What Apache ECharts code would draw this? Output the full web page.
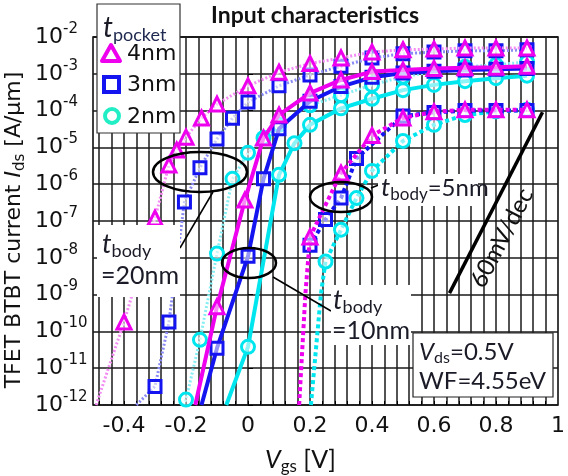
<!DOCTYPE html>
<html><head><meta charset="utf-8">
<script src="https://cdn.jsdelivr.net/npm/echarts@6/dist/echarts.min.js"></script>
<style>html,body{margin:0;padding:0;background:#fff}#c{width:568px;height:476px}</style>
</head><body><div id="c"></div>
<script>
// ---------- tick values ----------
const xTickLabels = [-0.4, -0.2, 0, 0.2, 0.4, 0.6, 0.8, 1];
const xGridLines = [-0.48,-0.44,-0.40,-0.36,-0.32,-0.28,-0.24,-0.20,-0.16,-0.12,-0.08,-0.04,0,0.04,0.08,0.12,0.16,0.20,0.24,0.28,0.32,0.36,0.40,0.44,0.48,0.52,0.56,0.60,0.64,0.68,0.72,0.76,0.80,0.84,0.88,0.92,0.96];

// ---------- t_body = 20 nm ----------
const vgs_20_4 = [-0.4, -0.3, -0.255, -0.23, -0.2, -0.15, -0.1, 0, 0.1, 0.2, 0.3, 0.4, 0.5, 0.6, 0.7, 0.8, 0.9];
const ids_20_4 = [1.8e-10, 1.2e-7, 3.3e-6, 8.5e-6, 1.9e-5, 6.3e-5, 1.5e-4, 4.7e-4, 1.1e-3, 1.9e-3, 2.7e-3, 3.9e-3, 4.5e-3, 4.7e-3, 5.0e-3, 5.0e-3, 5.0e-3];
const ext_20_4 = [[-0.49, 1e-12]];

const vgs_20_3 = [-0.3, -0.255, -0.205, -0.155, -0.1, -0.05, 0, 0.1, 0.2, 0.3, 0.4, 0.5, 0.6, 0.7, 0.8, 0.9];
const ids_20_3 = [3.2e-12, 1.8e-10, 3.3e-7, 2.8e-6, 1.7e-5, 6.2e-5, 1.7e-4, 4.7e-4, 9.3e-4, 1.6e-3, 2.7e-3, 3.5e-3, 3.9e-3, 4.2e-3, 4.2e-3, 4.5e-3];
const ext_20_3 = [[-0.36, 1e-12]];

const vgs_20_2 = [-0.2, -0.155, -0.1, -0.05, 0, 0.05, 0.1, 0.2, 0.3, 0.4, 0.5, 0.6, 0.7, 0.8, 0.9];
const ids_20_2 = [1.4e-12, 5.9e-11, 1.3e-8, 1.4e-6, 7.1e-6, 1.8e-5, 4.1e-5, 1.4e-4, 2.6e-4, 5.0e-4, 8.3e-4, 1.15e-3, 1.55e-3, 1.75e-3, 2.1e-3];
const ext_20_2 = [[-0.21, 1e-12]];

// ---------- t_body = 10 nm ----------
const vgs_10_4 = [-0.1, -0.01, 0.05, 0.1, 0.2, 0.3, 0.4, 0.5, 0.6, 0.7, 0.8, 0.9];
const ids_10_4 = [4.7e-10, 3.7e-7, 1.8e-5, 7.6e-5, 3.0e-4, 6.8e-4, 1.15e-3, 1.26e-3, 1.4e-3, 1.45e-3, 1.5e-3, 1.6e-3];
const ext_10_4 = [[-0.17, 1e-12]];

const vgs_10_3 = [-0.1, 0, 0.05, 0.1, 0.2, 0.3, 0.4, 0.5, 0.6, 0.7, 0.8, 0.9];
const ids_10_3 = [3.5e-11, 1.1e-8, 1.4e-6, 3.2e-5, 1.8e-4, 4.5e-4, 8.0e-4, 1.05e-3, 1.17e-3, 1.26e-3, 1.32e-3, 1.4e-3];
const ext_10_3 = [[-0.15, 1e-12]];

const vgs_10_2 = [0, 0.1, 0.15, 0.2, 0.3, 0.4, 0.5, 0.6, 0.7, 0.8, 0.9];
const ids_10_2 = [3.8e-11, 1.8e-6, 1.3e-5, 4.1e-5, 1.15e-4, 2.1e-4, 3.6e-4, 5.0e-4, 6.3e-4, 7.6e-4, 8.9e-4];
const ext_10_2 = [[-0.07, 1e-12]];

// ---------- t_body = 5 nm ----------
const vgs_5_4 = [0.2, 0.3, 0.4, 0.5, 0.6, 0.7, 0.8, 0.9];
const ids_5_4 = [3.7e-8, 2.0e-6, 2.1e-5, 6.3e-5, 9.3e-5, 1.05e-4, 1.05e-4, 1.05e-4];
const ext_5_4 = [[0.165, 1e-12], [0.185, 1e-9]];

const vgs_5_3 = [0.2, 0.25, 0.3, 0.35, 0.5, 0.6, 0.7, 0.8, 0.9];
const ids_5_3 = [2.2e-8, 1.1e-7, 4.2e-7, 5.0e-6, 7.1e-5, 8.9e-5, 1.0e-4, 1.0e-4, 1.0e-4];
const ext_5_3 = [];

const vgs_5_2 = [0.25, 0.3, 0.35, 0.4, 0.5, 0.6, 0.7, 0.8, 0.9];
const ids_5_2 = [7.9e-9, 5.8e-8, 4.2e-7, 2.3e-6, 1.5e-5, 4.1e-5, 7.6e-5, 9.5e-5, 1.05e-4];
const ext_5_2 = [[0.203, 1e-12], [0.235, 1e-9]];

// reference slope line (60 mV/dec)
const slopeVgs = [0.65, 0.95];
const slopeIds = [1.1e-9, 9.0e-5];

// ---------- styles ----------
const MAG = '#ee00ee', BLU = '#1414f0', CYA = '#00e6ee';
const MAG_L = '#f38cf3', BLU_L = '#8a8af5', CYA_L = '#86eef3';

function buildData(xs, ys, ext) {
  const pts = xs.map((x, i) => ({ value: [x, ys[i]] }));
  ext.forEach(p => pts.push({ value: [p[0], p[1]], symbol: 'none' }));
  pts.sort((a, b) => a.value[0] - b.value[0]);
  return pts;
}
function series(xs, ys, ext, color, lineColor, lineType, width, symbol, size, z) {
  return {
    type: 'line', data: buildData(xs, ys, ext), z: z,
    symbol: symbol, symbolSize: size, showAllSymbol: true,
    lineStyle: { color: lineColor, width: width, type: lineType },
    itemStyle: { color: 'rgba(255,255,255,0.55)', borderColor: color, borderWidth: 3 },
    emphasis: { disabled: true }, animation: false
  };
}

const sList = [
  series(vgs_20_2, ids_20_2, ext_20_2, CYA, CYA_L, [2, 2], 3, 'circle', 13, 2),
  series(vgs_20_3, ids_20_3, ext_20_3, BLU, BLU_L, [2, 2], 3, 'rect', 12, 3),
  series(vgs_20_4, ids_20_4, ext_20_4, MAG, MAG_L, [2, 2], 3, 'triangle', 14, 4),
  series(vgs_10_2, ids_10_2, ext_10_2, CYA, CYA, 'solid', 4, 'circle', 13, 5),
  series(vgs_10_3, ids_10_3, ext_10_3, BLU, BLU, 'solid', 4, 'rect', 12, 6),
  series(vgs_10_4, ids_10_4, ext_10_4, MAG, MAG, 'solid', 4, 'triangle', 14, 7),
  series(vgs_5_2, ids_5_2, ext_5_2, CYA, CYA, [4, 3], 4, 'circle', 13, 8),
  series(vgs_5_3, ids_5_3, ext_5_3, BLU, BLU, [4, 3], 4, 'rect', 12, 9),
  series(vgs_5_4, ids_5_4, ext_5_4, MAG, MAG, [4, 3], 4, 'triangle', 14, 10),
  { type: 'line', data: slopeVgs.map((x, i) => [x, slopeIds[i]]), symbol: 'none', z: 11,
    lineStyle: { color: '#000', width: 3.5 }, animation: false }
];

const TXT = '#1b1b28';
const ann = 'Lato, "Open Sans", sans-serif';
const graphic = [
  // title
  { type: 'text', x: 315, y: 16, z: 50, style: { text: 'Input characteristics', font: 'bold 23px ' + ann, fill: '#111', textAlign: 'center', textVerticalAlign: 'middle' } },
  // y axis title
  { type: 'text', x: 14, y: 230, rotation: Math.PI / 2, z: 50, style: {
      text: '{n|TFET BTBT current }{i|I}{s|ds}{n| [A/μm]}', textAlign: 'center', textVerticalAlign: 'middle',
      rich: { n: { fontSize: 22, fontFamily: 'DejaVu Sans', fill: '#111' }, i: { fontSize: 22, fontFamily: 'DejaVu Sans', fontStyle: 'italic', fill: '#111' }, s: { fontSize: 15, fontFamily: 'DejaVu Sans', fill: '#111', padding: [12, 0, 0, 0] } } } },
  // x axis title
  { type: 'text', x: 265, y: 460, z: 50, style: {
      text: '{i|V}{s|gs}{n| [V]}', textVerticalAlign: 'middle',
      rich: { n: { fontSize: 25, fontFamily: ann, fill: '#111' }, i: { fontSize: 25, fontFamily: ann, fontStyle: 'italic', fill: '#111' }, s: { fontSize: 17, fontFamily: ann, fill: '#111', padding: [14, 0, 0, 0] } } } },
  // legend box
  { type: 'rect', z: 40, shape: { x: 97, y: 4, width: 83, height: 129 }, style: { fill: '#fff', stroke: '#333', lineWidth: 1.2 } },
  { type: 'text', x: 103, y: 28, z: 41, style: { text: '{i|t}{s|pocket}', textVerticalAlign: 'middle',
      rich: { i: { fontSize: 28, fontFamily: ann, fontStyle: 'italic', fill: TXT }, s: { fontSize: 18, fontFamily: ann, fill: '#202a50', padding: [14, 0, 0, 0] } } } },
  { type: 'polygon', z: 41, shape: { points: [[111, 45], [120, 61], [102, 61]] }, style: { fill: '#fff', stroke: MAG, lineWidth: 4, lineJoin: 'round' } },
  { type: 'rect', z: 41, shape: { x: 104, y: 77, width: 15, height: 15 }, style: { fill: '#fff', stroke: BLU, lineWidth: 4 } },
  { type: 'circle', z: 41, shape: { cx: 112, cy: 116, r: 7 }, style: { fill: '#fff', stroke: '#22eec6', lineWidth: 4 } },
  { type: 'text', x: 127, y: 54, z: 41, style: { text: '4nm', font: '22px "DejaVu Sans"', fill: '#111', textVerticalAlign: 'middle' } },
  { type: 'text', x: 127, y: 85, z: 41, style: { text: '3nm', font: '22px "DejaVu Sans"', fill: '#111', textVerticalAlign: 'middle' } },
  { type: 'text', x: 127, y: 117, z: 41, style: { text: '2nm', font: '22px "DejaVu Sans"', fill: '#111', textVerticalAlign: 'middle' } },
  // ellipses
  { type: 'ellipse', z: 30, shape: { cx: 200, cy: 172, rx: 47, ry: 20 }, style: { fill: 'none', stroke: '#000', lineWidth: 2.5 } },
  { type: 'ellipse', z: 30, shape: { cx: 249, cy: 263, rx: 27, ry: 15 }, style: { fill: 'none', stroke: '#000', lineWidth: 2.5 } },
  { type: 'ellipse', z: 30, shape: { cx: 341, cy: 197, rx: 31, ry: 15 }, style: { fill: 'none', stroke: '#000', lineWidth: 2.5 } },
  { type: 'line', z: 30, shape: { x1: 213, y1: 192, x2: 180, y2: 248 }, style: { stroke: '#000', lineWidth: 1.5 } },
  { type: 'line', z: 30, shape: { x1: 273, y1: 277, x2: 331, y2: 311 }, style: { stroke: '#000', lineWidth: 1.5 } },
  { type: 'line', z: 30, shape: { x1: 371, y1: 188, x2: 381, y2: 184 }, style: { stroke: '#000', lineWidth: 1.5 } },
  // t_body = 20nm
  { type: 'rect', z: 31, shape: { x: 97, y: 225, width: 83, height: 72 }, style: { fill: '#fff' } },
  { type: 'text', x: 102, y: 244, z: 32, style: { text: '{i|t}{s|body}', textVerticalAlign: 'middle',
      rich: { i: { fontSize: 27, fontFamily: ann, fontStyle: 'italic', fill: TXT }, s: { fontSize: 18, fontFamily: ann, fill: TXT, padding: [14, 0, 0, 0] } } } },
  { type: 'text', x: 101, y: 276, z: 32, style: { text: '=20nm', font: '25px ' + ann, fill: TXT, textVerticalAlign: 'middle' } },
  // t_body = 10nm
  { type: 'rect', z: 31, shape: { x: 331, y: 285, width: 80, height: 60 }, style: { fill: '#fff' } },
  { type: 'text', x: 333, y: 300, z: 32, style: { text: '{i|t}{s|body}', textVerticalAlign: 'middle',
      rich: { i: { fontSize: 27, fontFamily: ann, fontStyle: 'italic', fill: TXT }, s: { fontSize: 18, fontFamily: ann, fill: TXT, padding: [14, 0, 0, 0] } } } },
  { type: 'text', x: 332, y: 331, z: 32, style: { text: '=10nm', font: '25px ' + ann, fill: TXT, textVerticalAlign: 'middle' } },
  // t_body = 5nm
  { type: 'rect', z: 31, shape: { x: 378, y: 174, width: 100, height: 32 }, style: { fill: '#fff' } },
  { type: 'text', x: 381, y: 188, z: 32, style: { text: '{i|t}{s|body}{n|=5nm}', textVerticalAlign: 'middle',
      rich: { i: { fontSize: 26, fontFamily: ann, fontStyle: 'italic', fill: TXT }, s: { fontSize: 17, fontFamily: ann, fill: TXT, padding: [14, 0, 0, 0] }, n: { fontSize: 24, fontFamily: ann, fill: TXT } } } },
  // 60 mV/dec
  { type: 'text', x: 502, y: 238, rotation: 1.09, z: 32, style: { text: '60mV/dec', font: '24px ' + ann, fill: '#111', textAlign: 'center', textVerticalAlign: 'middle' } },
  // Vds box
  { type: 'rect', z: 31, shape: { x: 413, y: 333, width: 140, height: 64 }, style: { fill: '#fff', stroke: '#222', lineWidth: 1.2 } },
  { type: 'text', x: 419, y: 352, z: 32, style: { text: '{i|V}{s|ds}{n|=0.5V}', textVerticalAlign: 'middle',
      rich: { i: { fontSize: 24, fontFamily: ann, fontStyle: 'italic', fill: TXT }, s: { fontSize: 16, fontFamily: ann, fill: TXT, padding: [12, 0, 0, 0] }, n: { fontSize: 24, fontFamily: ann, fill: TXT } } } },
  { type: 'text', x: 419, y: 381, z: 32, style: { text: 'WF=4.55eV', font: '24px ' + ann, fill: TXT, textVerticalAlign: 'middle' } }
];

const chart = echarts.init(document.getElementById('c'), null, { renderer: 'canvas' });
chart.setOption({
  backgroundColor: '#fff',
  animation: false,
  grid: { left: 93, right: 6, top: 37, bottom: 71, show: true, borderColor: '#000', borderWidth: 1.5, backgroundColor: 'transparent' },
  xAxis: {
    type: 'value', min: -0.5, max: 1.0,
    axisLine: { show: false },
    axisTick: { show: true, inside: true, length: 4, customValues: xGridLines, lineStyle: { color: '#000' } },
    axisLabel: { customValues: xTickLabels, fontSize: 22, fontFamily: 'DejaVu Sans', color: '#111', margin: 10 },
    splitLine: { show: true, lineStyle: { color: '#1a1a1a', width: 1.5 } }
  },
  yAxis: {
    type: 'log', logBase: 10, min: 1e-12, max: 1e-2, splitNumber: 10,
    axisLine: { show: false },
    axisTick: { show: true, inside: true, length: 5, lineStyle: { color: '#000' } },
    axisLabel: {
      margin: 58, align: 'left',
      formatter: function (v) { return '{b|10}{s|' + Math.round(Math.log10(v)) + '}'; },
      rich: { b: { fontSize: 22, fontFamily: 'DejaVu Sans', color: '#111' }, s: { fontSize: 15, fontFamily: 'DejaVu Sans', color: '#111', padding: [0, 0, 16, 0] } }
    },
    splitLine: { show: true, lineStyle: { color: '#1a1a1a', width: 1.5 } }
  },
  series: sList,
  graphic: graphic
});
</script></body></html>
